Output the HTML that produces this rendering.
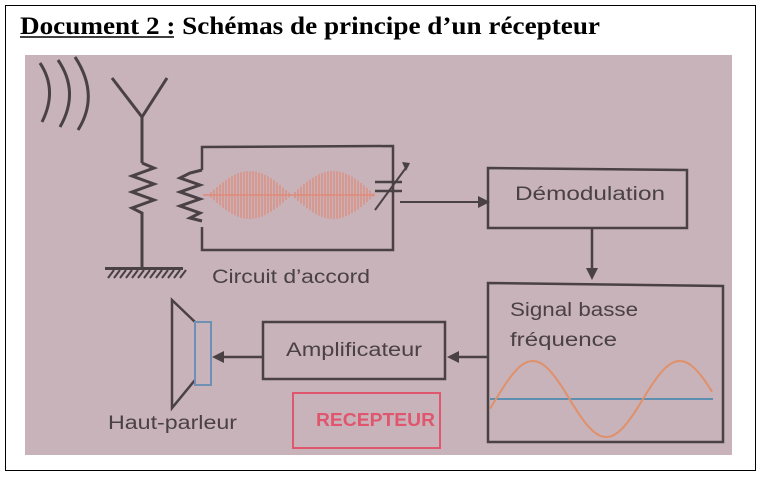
<!DOCTYPE html>
<html><head><meta charset="utf-8"><style>
html,body{margin:0;padding:0;background:#fff;}
body{width:761px;height:477px;overflow:hidden;position:relative;}
</style></head><body>
<svg id="s" width="761" height="477" viewBox="0 0 761 477" xmlns="http://www.w3.org/2000/svg" style="position:absolute;left:0;top:0">
<rect x="5.5" y="5.5" width="750" height="465" fill="none" stroke="#000" stroke-width="1"/>
<text x="20" y="34" font-family="Liberation Serif, serif" font-size="25" font-weight="bold" fill="#000" textLength="580" lengthAdjust="spacingAndGlyphs">Document 2 : Schémas de principe d’un récepteur</text>
<line x1="20" y1="37" x2="174" y2="37" stroke="#000" stroke-width="1.5"/>
<rect x="25" y="55" width="707" height="400" fill="#c7b3b9"/>
<g fill="none" stroke="#4a4144" stroke-width="3">
<path d="M40 63 Q58 90 42 122"/><path d="M58 60 Q80 92 60 127"/><path d="M75 57 Q100 95 78 130"/>
<path d="M112 78 L142 117 L167 78 M142 117 L142 163"/>
<path d="M142 163 l12 5 l-22 8 l22 8 l-22 8 l22 8 l-22 8 l10 5 L142 220 L142 268"/>
<path d="M202 170 l-12 3 l-10 5 l20 7 l-20 7 l20 7 l-20 7 l20 7 l-10 5 l12 3"/>
<path d="M202 170 L202 147 L393 146 L393 250 L202 250 L202 227" stroke-width="2.5"/>
<path d="M375 182 L402 182 M375 191 L402 191" stroke-width="2.5"/>
<path d="M375 210 L408 165" stroke-width="2"/>
<path d="M400 202 L482 202" stroke-width="2"/>
<path d="M488 168 L687 170 L687 228 L488 228 Z" stroke-width="2.5"/>
<path d="M592 228 L592 272" stroke-width="2.5"/>
<path d="M488 283 L723 286 L723 442 L488 442 Z" stroke-width="2.5"/>
<path d="M488 357 L452 357" stroke-width="2.5"/>
<path d="M263 322 L445 322 L445 379 L263 379 Z" stroke-width="2.5"/>
<path d="M263 357 L218 357" stroke-width="2.5"/>
<path d="M195 322 L172 300 L172 408 L195 380" stroke-width="2.5"/>
</g>
<path d="M402 162 L410 163 L406 171 Z" fill="#4a4144"/>
<path d="M490 202 L478 196 L478 208 Z" fill="#4a4144"/>
<path d="M592 280 L586 268 L598 268 Z" fill="#4a4144"/>
<path d="M447 357 L459 351 L459 363 Z" fill="#4a4144"/>
<path d="M212 357 L224 351 L224 363 Z" fill="#4a4144"/>
<rect x="105" y="267" width="78" height="3" fill="#4a4144"/>
<g stroke="#4a4144" stroke-width="2" id="hatch"></g>
<g id="wave" stroke="#e08a78" stroke-width="1.3"></g>
<line x1="203" y1="195" x2="375" y2="195" stroke="#e08a78" stroke-width="1.5"/>
<rect x="195" y="322" width="16" height="63" fill="none" stroke="#6f8fb3" stroke-width="2"/>
<line x1="490" y1="399" x2="713" y2="399" stroke="#5f8fb0" stroke-width="2"/>
<path id="sine" fill="none" stroke="#e0906a" stroke-width="2"/>
<rect x="293" y="393" width="147" height="55" fill="none" stroke="#e0566e" stroke-width="2"/>
<g font-family="Liberation Sans, sans-serif" fill="#4a4144" font-size="19" lengthAdjust="spacingAndGlyphs">
<text x="212" y="283" textLength="158" lengthAdjust="spacingAndGlyphs">Circuit d’accord</text>
<text x="515" y="200" textLength="150" lengthAdjust="spacingAndGlyphs">Démodulation</text>
<text x="510" y="316" textLength="128" lengthAdjust="spacingAndGlyphs">Signal basse</text>
<text x="510" y="346" textLength="107" lengthAdjust="spacingAndGlyphs">fréquence</text>
<text x="286" y="356" textLength="136" lengthAdjust="spacingAndGlyphs">Amplificateur</text>
<text x="108" y="429" textLength="129" lengthAdjust="spacingAndGlyphs">Haut-parleur</text>
</g>
<text x="316" y="426" textLength="119" lengthAdjust="spacingAndGlyphs" font-family="Liberation Sans, sans-serif" font-weight="bold" font-size="18" fill="#e0566e">RECEPTEUR</text>
</svg>
<script>
var ns="http://www.w3.org/2000/svg";
var w=document.getElementById("wave");
for(var x=208;x<=375;x+=3){var t=(x-208)/83.5*Math.PI;var a=24*Math.abs(Math.sin(t));if(a<1)continue;var l=document.createElementNS(ns,"line");l.setAttribute("x1",x);l.setAttribute("x2",x);l.setAttribute("y1",195-a);l.setAttribute("y2",195+a);w.appendChild(l);}
var h=document.getElementById("hatch");
for(var x=108;x<184;x+=6){var l=document.createElementNS(ns,"line");l.setAttribute("x1",x);l.setAttribute("y1",278);l.setAttribute("x2",x+6);l.setAttribute("y2",270);h.appendChild(l);}
var d="";for(var x=490;x<=713;x+=2){var y=399-38*Math.sin((x-496)/147*2*Math.PI);d+=(x==490?"M":"L")+x+" "+y.toFixed(1)+" ";}
document.getElementById("sine").setAttribute("d",d);
</script>
</body></html>
